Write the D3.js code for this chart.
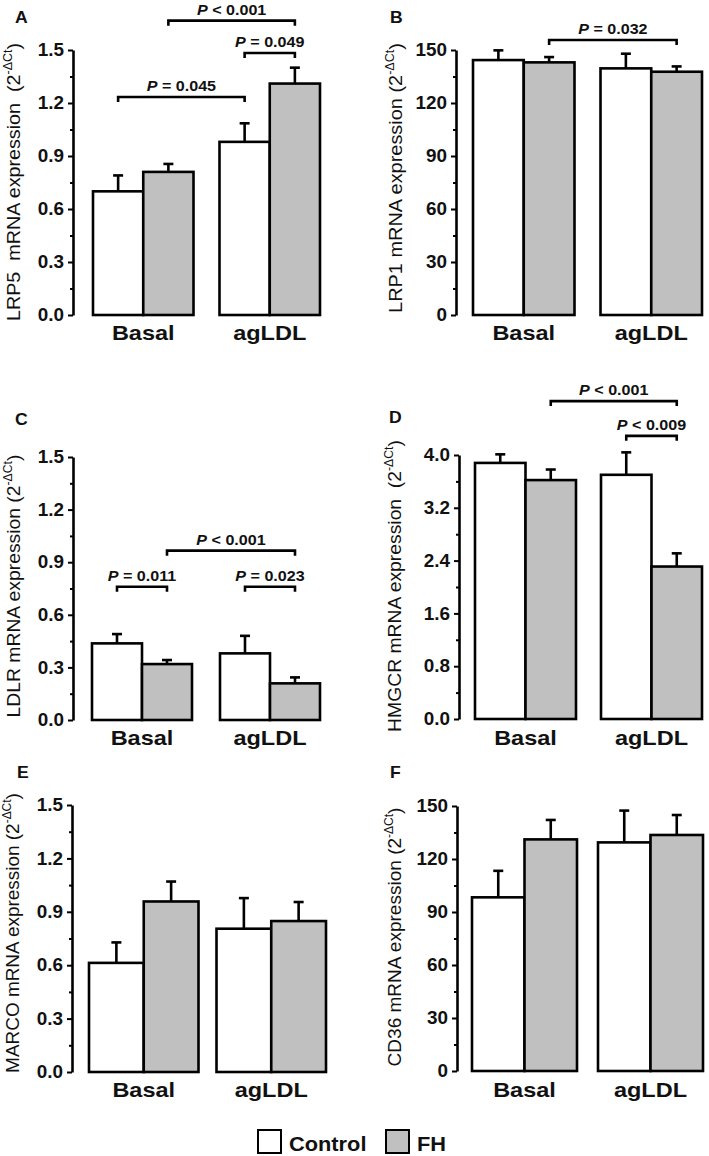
<!DOCTYPE html>
<html><head><meta charset="utf-8">
<script src="https://cdn.jsdelivr.net/npm/d3@7"></script>
<style>
body{margin:0;background:#fff}
svg{display:block}
text{font-family:"Liberation Sans",Arial,Helvetica,sans-serif;fill:#111}
</style></head><body>
<script>
// ---------- DATA ----------
const categories = ["Basal", "agLDL"];
const groups = ["Control", "FH"];

const lrp5Control = [0.70, 0.98];
const lrp5ControlSem = [0.09, 0.105];
const lrp5FH = [0.81, 1.31];
const lrp5FHSem = [0.045, 0.09];

const lrp1Control = [144.3, 139.6];
const lrp1ControlSem = [5.5, 8.3];
const lrp1FH = [143.0, 137.7];
const lrp1FHSem = [3.0, 3.0];

const ldlrControl = [0.437, 0.38];
const ldlrControlSem = [0.053, 0.10];
const ldlrFH = [0.319, 0.209];
const ldlrFHSem = [0.023, 0.034];

const hmgcrControl = [3.88, 3.70];
const hmgcrControlSem = [0.13, 0.34];
const hmgcrFH = [3.62, 2.31];
const hmgcrFHSem = [0.16, 0.20];

const marcoControl = [0.613, 0.805];
const marcoControlSem = [0.115, 0.172];
const marcoFH = [0.958, 0.848];
const marcoFHSem = [0.112, 0.107];

const cd36Control = [98.3, 129.4];
const cd36ControlSem = [15.0, 18.0];
const cd36FH = [131.1, 133.6];
const cd36FHSem = [11.0, 11.3];

const ticks15 = [0, 0.3, 0.6, 0.9, 1.2, 1.5];
const minor15 = [0.15, 0.45, 0.75, 1.05, 1.35];
const ticks150 = [0, 30, 60, 90, 120, 150];
const minor150 = [15, 45, 75, 105, 135];
const ticks4 = [0, 0.8, 1.6, 2.4, 3.2, 4.0];
const minor4 = [0.4, 1.2, 2.0, 2.8, 3.6];

// p-value brackets: from/to = [categoryIndex, groupIndex], y = value level
const lrp5P = [
  {op: "< 0.001", from: [0, 1], to: [1, 1], y: 1.666},
  {op: "= 0.049", from: [1, 0], to: [1, 1], y: 1.483},
  {op: "= 0.045", from: [0, 0], to: [1, 0], y: 1.234}
];
const lrp1P = [
  {op: "= 0.032", from: [0, 1], to: [1, 1], y: 155.7}
];
const ldlrP = [
  {op: "< 0.001", from: [0, 1], to: [1, 1], y: 0.966},
  {op: "= 0.011", from: [0, 0], to: [0, 1], y: 0.760},
  {op: "= 0.023", from: [1, 0], to: [1, 1], y: 0.760}
];
const hmgcrP = [
  {op: "< 0.001", from: [0, 1], to: [1, 1], y: 4.817},
  {op: "< 0.009", from: [1, 0], to: [1, 1], y: 4.29}
];

// ---------- LAYOUT ----------
const panels = [
  {letter: "A", title: ["LRP5  mRNA expression  (2", "-\u0394Ct", ")"],
   control: lrp5Control, controlSem: lrp5ControlSem, fh: lrp5FH, fhSem: lrp5FHSem,
   ticks: ticks15, minor: minor15, fmt: ".1f", pvals: lrp5P,
   L: {axisX: 73, y0: 315, yTop: 50, bx0: 93, bx1: 320, gap: 26, lx: 15, ly: 23, tx: 20, tc: 182, tlen: 278, catY: 340}},
  {letter: "B", title: ["LRP1 mRNA expression (2", "-\u0394Ct", ")"],
   control: lrp1Control, controlSem: lrp1ControlSem, fh: lrp1FH, fhSem: lrp1FHSem,
   ticks: ticks150, minor: minor150, fmt: "d", pvals: lrp1P,
   L: {axisX: 456, y0: 315, yTop: 50, bx0: 473, bx1: 702, gap: 26, lx: 390, ly: 23, tx: 402, tc: 178, tlen: 270, catY: 340}},
  {letter: "C", title: ["LDLR mRNA expression (2", "-\u0394Ct", ")"],
   control: ldlrControl, controlSem: ldlrControlSem, fh: ldlrFH, fhSem: ldlrFHSem,
   ticks: ticks15, minor: minor15, fmt: ".1f", pvals: ldlrP,
   L: {axisX: 73, y0: 720, yTop: 457, bx0: 92, bx1: 320, gap: 28, lx: 15, ly: 425, tx: 20, tc: 586, tlen: 263, catY: 745}},
  {letter: "D", title: ["HMGCR mRNA expression  (2", "-\u0394Ct", ")"],
   control: hmgcrControl, controlSem: hmgcrControlSem, fh: hmgcrFH, fhSem: hmgcrFHSem,
   ticks: ticks4, minor: minor4, fmt: ".1f", pvals: hmgcrP,
   L: {axisX: 459, y0: 719, yTop: 455, bx0: 475, bx1: 702, gap: 25, lx: 389, ly: 423, tx: 401, tc: 586, tlen: 292, catY: 745}},
  {letter: "E", title: ["MARCO mRNA expression (2", "-\u0394Ct", ")"],
   control: marcoControl, controlSem: marcoControlSem, fh: marcoFH, fhSem: marcoFHSem,
   ticks: ticks15, minor: minor15, fmt: ".1f", pvals: [],
   L: {axisX: 72, y0: 1072, yTop: 805, bx0: 89, bx1: 326, gap: 18, lx: 17, ly: 778, tx: 19, tc: 933, tlen: 280, catY: 1097}},
  {letter: "F", title: ["CD36 mRNA expression (2", "-\u0394Ct", ")"],
   control: cd36Control, controlSem: cd36ControlSem, fh: cd36FH, fhSem: cd36FHSem,
   ticks: ticks150, minor: minor150, fmt: "d", pvals: [],
   L: {axisX: 457, y0: 1071, yTop: 806, bx0: 472, bx1: 703, gap: 21, lx: 390, ly: 778, tx: 401, tc: 937, tlen: 259, catY: 1097}}
];

const GRAY = "#c0c0c0";
const SW = 2.6;

const svg = d3.select("body").append("svg").attr("width", 709).attr("height", 1156);

function stretchText(parent, x, y, sx, anchor) {
  return parent.append("text")
    .attr("transform", `translate(${x},${y}) scale(${sx},1)`)
    .attr("text-anchor", anchor || "middle");
}

panels.forEach(p => {
  const L = p.L;
  const g = svg.append("g");
  const width = L.bx1 - L.bx0;
  const bw = (width - L.gap) / 2;
  const step = bw + L.gap;
  const x = d3.scaleBand().domain(categories).range([L.bx0, L.bx1])
    .paddingInner(L.gap / step).paddingOuter(0);
  const xs = d3.scaleBand().domain(groups).range([0, x.bandwidth()]).padding(0);
  const y = d3.scaleLinear().domain([0, p.ticks[p.ticks.length - 1]]).range([L.y0, L.yTop]);

  const vals = [p.control, p.fh];
  const sems = [p.controlSem, p.fhSem];

  // bars
  categories.forEach((c, ci) => {
    groups.forEach((s, si) => {
      const v = vals[si][ci], e = sems[si][ci];
      const bx = x(c) + xs(s), cx = bx + xs.bandwidth() / 2;
      g.append("line").attr("x1", cx).attr("x2", cx).attr("y1", y(v)).attr("y2", y(v + e))
        .attr("stroke", "#000").attr("stroke-width", SW);
      g.append("line").attr("x1", cx - 5).attr("x2", cx + 5).attr("y1", y(v + e)).attr("y2", y(v + e))
        .attr("stroke", "#000").attr("stroke-width", SW);
      g.append("rect").attr("x", bx).attr("y", y(v)).attr("width", xs.bandwidth()).attr("height", y(0) - y(v))
        .attr("fill", si === 0 ? "#fff" : GRAY).attr("stroke", "#000").attr("stroke-width", SW);
    });
  });

  // axis
  const fmt = d3.format(p.fmt);
  const ax = g.append("g").attr("transform", `translate(${L.axisX},0)`)
    .call(d3.axisLeft(y).tickValues(p.ticks).tickSize(5).tickSizeOuter(0).tickPadding(4).tickFormat(fmt));
  ax.select(".domain").attr("stroke-width", SW).attr("stroke", "#000");
  ax.selectAll(".tick line").attr("stroke-width", 2).attr("stroke", "#000");
  ax.selectAll(".tick text").attr("font-size", 18).attr("font-weight", "bold").attr("fill", "#111")
    .attr("font-family", '"Liberation Sans",Arial,sans-serif')
    .each(function () {
      const t = d3.select(this);
      const xx = +t.attr("x");
      t.attr("x", null).attr("transform", `translate(${xx},0) scale(1.05,1)`);
    });
  const mx = g.append("g").attr("transform", `translate(${L.axisX},0)`)
    .call(d3.axisLeft(y).tickValues(p.minor).tickSize(3).tickSizeOuter(0).tickFormat(""));
  mx.select(".domain").remove();
  mx.selectAll(".tick line").attr("stroke-width", 2).attr("stroke", "#000");

  // category labels
  categories.forEach(c => {
    stretchText(g, x(c) + x.bandwidth() / 2, L.catY, 1.12)
      .attr("font-size", 21).attr("font-weight", "bold").text(c);
  });

  // panel letter
  stretchText(g, L.lx, L.ly, 1.1, "start").attr("font-size", 16).attr("font-weight", "bold").text(p.letter);

  // y title
  const tt = g.append("text").attr("text-anchor", "middle").attr("font-size", 19)
    .style("white-space", "pre");
  tt.append("tspan").text(p.title[0]);
  tt.append("tspan").attr("font-size", 12).attr("dy", -8).text(p.title[1]);
  tt.append("tspan").attr("dy", 8).text(p.title[2]);
  const len = tt.node().getComputedTextLength();
  tt.attr("transform", `translate(${L.tx},${L.tc}) rotate(-90) scale(${L.tlen / len},1)`);

  // p-value brackets
  p.pvals.forEach(b => {
    const x1 = x(categories[b.from[0]]) + xs(groups[b.from[1]]) + xs.bandwidth() / 2;
    const x2 = x(categories[b.to[0]]) + xs(groups[b.to[1]]) + xs.bandwidth() / 2;
    const yy = y(b.y);
    g.append("path").attr("d", `M${x1},${yy + 5}V${yy}H${x2}V${yy + 5}`)
      .attr("fill", "none").attr("stroke", "#000").attr("stroke-width", SW);
    const t = stretchText(g, (x1 + x2) / 2, yy - 6, 1.15).attr("font-size", 14).attr("font-weight", "bold");
    t.append("tspan").attr("font-style", "italic").text("P");
    t.append("tspan").text(" " + b.op);
  });
});

// legend
const lg = svg.append("g");
const legendBoxes = [{x: 258, fill: "#fff"}, {x: 386, fill: GRAY}];
legendBoxes.forEach((b, i) => {
  lg.append("rect").attr("x", b.x).attr("y", 1130).attr("width", 23).attr("height", 23)
    .attr("fill", b.fill).attr("stroke", "#000").attr("stroke-width", 2);
  stretchText(lg, b.x + 31, 1151, 1.09, "start").attr("font-size", 20).attr("font-weight", "bold").text(groups[i]);
});
</script>
</body></html>
